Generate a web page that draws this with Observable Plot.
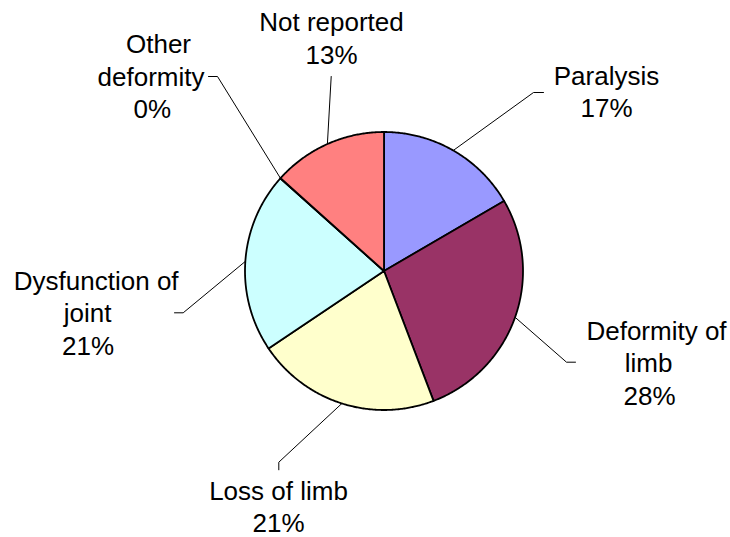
<!DOCTYPE html>
<html><head><meta charset="utf-8">
<script src="https://cdn.jsdelivr.net/npm/d3@7"></script>
<script src="https://cdn.jsdelivr.net/npm/@observablehq/plot@0.6"></script>
<style>html,body{margin:0;padding:0;background:#fff}</style>
</head><body><div id="chart"></div>
<script>
// ---- data ----
const categories = ["Paralysis", "Deformity of limb", "Loss of limb", "Dysfunction of joint", "Other deformity", "Not reported"];
const values = [16.6, 27.6, 21.4, 21.0, 0.05, 13.35];
const percentLabels = ["17%", "28%", "21%", "21%", "0%", "13%"];
const nameLines = [["Paralysis"], ["Deformity of", "limb"], ["Loss of limb"], ["Dysfunction of", "joint"], ["Other", "deformity"], ["Not reported"]];
const colors = ["#9999FF", "#993366", "#FFFFCC", "#CCFFFF", "#660066", "#FF8080"];

// ---- layout (pixels) ----
const W = 730, H = 537, CX = 383.5, CY = 270.5, R = 139;
const labelX = [[606, 606], [656, 648, 649], [278, 278], [95.7, 87, 87.5], [158, 150.5, 151.7], [331, 331]];
const labelY0 = [84.3, 339.5, 499.3, 289.5, 52.7, 30.7];
const lineStep = 32.3;
const leaderPoints = [
  [[533, 92], [543, 92]],
  [[566, 361.7], [575, 361.7]],
  [[278.3, 461.7], [278.3, 469.3]],
  [[182.7, 312.3], [174, 312.3]],
  [[217, 76], [208, 76]],
  [[330.7, 76]]
];

// ---- build tables ----
const arcs = d3.pie().sort(null).value(d => d)(values);
const polar = (a, r) => [CX + r * Math.sin(a), CY - r * Math.cos(a)];

const slicePts = [];
arcs.forEach((a, i) => {
  const cat = categories[i];
  slicePts.push({cat, x: CX, y: CY});
  const n = Math.max(2, Math.ceil((a.endAngle - a.startAngle) / (Math.PI / 360)));
  for (let k = 0; k <= n; k++) {
    const t = a.startAngle + (a.endAngle - a.startAngle) * k / n;
    const [x, y] = polar(t, R);
    slicePts.push({cat, x, y});
  }
  slicePts.push({cat, x: CX, y: CY});
});

const leaderPts = [];
arcs.forEach((a, i) => {
  const mid = (a.startAngle + a.endAngle) / 2;
  const [x, y] = polar(mid, R);
  leaderPts.push({cat: categories[i], x, y});
  leaderPoints[i].forEach(([px, py]) => leaderPts.push({cat: categories[i], x: px, y: py}));
});

const textRows = [];
categories.forEach((c, i) => {
  const lines = [...nameLines[i], percentLabels[i]];
  lines.forEach((t, j) => textRows.push({text: t, x: labelX[i][j], y: labelY0[i] + j * lineStep}));
});

const chart = Plot.plot({
  width: W, height: H,
  margin: 0,
  x: {domain: [0, W], range: [0, W], axis: null},
  y: {domain: [0, H], range: [0, H], axis: null},
  color: {type: "ordinal", domain: categories, range: colors},
  style: {background: "#fff", fontFamily: "Arial, 'Liberation Sans', sans-serif"},
  marks: [
    Plot.line(leaderPts, {x: "x", y: "y", z: "cat", stroke: "#000", strokeWidth: 1}),
    Plot.line(slicePts, {x: "x", y: "y", z: "cat", fill: "cat", stroke: "#000", strokeWidth: 1.8, strokeLinejoin: "round"}),
    Plot.text(textRows, {x: "x", y: "y", text: "text", fontSize: 26, textAnchor: "middle", lineAnchor: "bottom", fill: "#000"})
  ]
});
document.getElementById("chart").appendChild(chart);
</script>
</body></html>
